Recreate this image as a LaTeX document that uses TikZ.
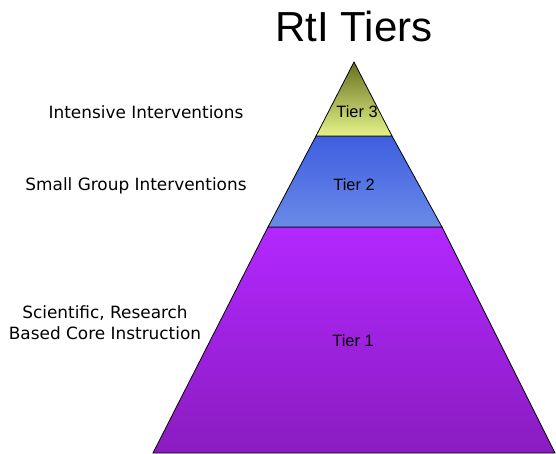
\documentclass[tikz,border=0pt]{standalone}
\usepackage{fontspec}
\setmainfont{Liberation Sans}
\newfontfamily\sidefont{DejaVu Sans}
\usetikzlibrary{positioning}
\definecolor{tierthreetop}{HTML}{687020}
\definecolor{tierthreebot}{HTML}{E4F488}
\definecolor{tiertwotop}{HTML}{3F5EE0}
\definecolor{tiertwobot}{HTML}{6A8AE8}
\definecolor{tieronetop}{HTML}{B228FF}
\definecolor{tieronebot}{HTML}{8A1CC0}
\tikzset{
    %Define style for the tier bands
    band/.style={
           draw=black,
           line width=0.8pt,
           line join=miter},
    % Define style for the tier names
    tiername/.style={font=\fontsize{16.4}{19}\selectfont},
    % Define style for the texts at the side
    sidetext/.style={font=\sidefont\fontsize{16.9}{21}\selectfont, align=center},
    % Define style for the heading
    heading/.style={font=\fontsize{42}{46}\selectfont, anchor=base}
}

\begin{document}
\begin{tikzpicture}[x=1pt,y=-1pt]
  \useasboundingbox (0,0) rectangle (556,453);
  % corners of the pyramid
  \coordinate (apex) at (354,62);
  \coordinate (t3l) at (316,136);
  \coordinate (t3r) at (392,136);
  \coordinate (t2l) at (268,227);
  \coordinate (t2r) at (442,227);
  \coordinate (t1l) at (153,453);
  \coordinate (t1r) at (555,453);
  % tier bands
  \shadedraw[band, top color=tieronetop, bottom color=tieronebot]
    (t2l) -- (t2r) -- (t1r) -- (t1l) -- cycle;
  \shadedraw[band, top color=tiertwotop, bottom color=tiertwobot]
    (t3l) -- (t3r) -- (t2r) -- (t2l) -- cycle;
  \shadedraw[band, top color=tierthreetop, bottom color=tierthreebot]
    (apex) -- (t3r) -- (t3l) -- cycle;
  % names
  \node[heading] (title) at (354,41) {RtI Tiers};
  \node[tiername] (tier3) at (357,112) {Tier 3};
  \node[tiername] (tier2) at (354,185) {Tier 2};
  \node[tiername] (tier1) at (353,341) {Tier 1};
  \node[sidetext] (intensive) at (146,112) {Intensive Interventions};
  \node[sidetext] (small) at (136,186) {Small Group Interventions};
  \node[sidetext] (core) at (105,323) {Scientific, Research\\Based Core Instruction};
\end{tikzpicture}
\end{document}
